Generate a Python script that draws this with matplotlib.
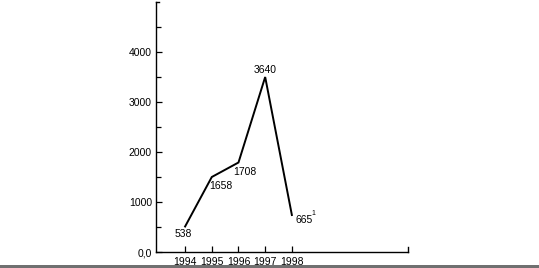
import matplotlib.pyplot as plt
import matplotlib.patches as mpatches
import numpy as np

plt.rcParams['font.family'] = ['Liberation Sans', 'DejaVu Sans']

# years and values (line drawn from values, labels as printed)
years = [1994, 1995, 1996, 1997, 1998]
values = [510, 1500, 1790, 3500, 740]
labels = ["538", "1658", "1708", "3640", "665"]
# label offsets in points (dx, dy)
offsets = [(-1.5, -5.5), (6.5, -6.7), (4.8, -6.8), (0, 5.3), (8.6, -3.6)]

y_ticks = [0, 1000, 2000, 3000, 4000]
y_ticklabels = ["0,0", "1000", "2000", "3000", "4000"]

fig = plt.figure(figsize=(5.39, 2.68), dpi=100)
ax = fig.add_axes([156/539, 16/268, 252/539, 250/268])

ax.plot(years, values, color='black', lw=1.4, solid_joinstyle='miter')

for x, y, lab, (dx, dy) in zip(years, values, labels, offsets):
    ax.annotate(lab, (x, y), xytext=(dx, dy), textcoords='offset points',
                ha='center', va='center', fontsize=7.5)
# footnote mark on last value
ax.annotate("1", (years[-1], values[-1]), xytext=(15.6, 0.9),
            textcoords='offset points', ha='center', va='center', fontsize=5)

ax.set_xlim(1992.91, 2002.35)
ax.set_ylim(0, 5000)

ax.set_xticks(years)
ax.set_xticklabels([str(y) for y in years], fontsize=7.5)
ax.set_yticks(y_ticks)
ax.set_yticklabels(y_ticklabels, fontsize=7.5)
ax.set_yticks(np.arange(500, 5001, 1000), minor=True)
ax.tick_params(axis='x', direction='in', length=4.5, width=0.9, pad=3.3)
ax.tick_params(axis='y', which='both', direction='in', length=3.5, width=0.9, pad=3)
ax.tick_params(axis='y', which='major', length=4)

ax.spines['top'].set_visible(False)
ax.spines['right'].set_visible(False)
ax.spines['left'].set_linewidth(1.0)
ax.spines['bottom'].set_linewidth(1.0)

# end tick at right of x axis and top tick on y axis
ax.axvline(2002.35, ymin=0, ymax=0.022, color='black', lw=1.0, clip_on=False)
ax.axhline(5000, xmin=0, xmax=0.013, color='black', lw=1.0, clip_on=False)

# grey scan edge at bottom
fig.add_artist(mpatches.Rectangle((0, 0), 1, 3/268, transform=fig.transFigure,
                                  color='#707070', lw=0))

fig.savefig('out.png', dpi=100)
